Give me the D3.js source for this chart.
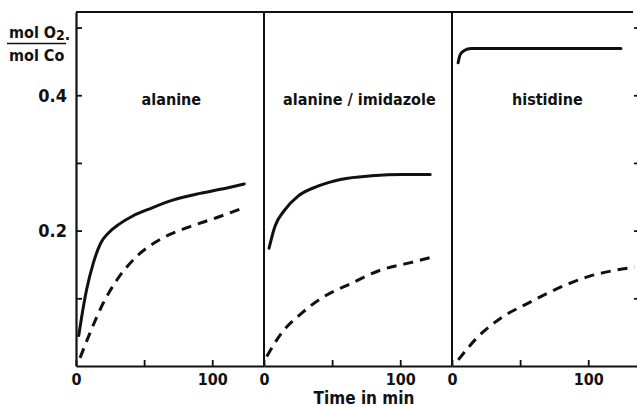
<!DOCTYPE html>
<html>
<head>
<meta charset="utf-8">
<script src="https://cdn.jsdelivr.net/npm/d3@7"></script>
<style>
  body { margin: 0; background: #fff; }
  svg text { font-family: "DejaVu Sans Condensed", "DejaVu Sans", sans-serif; font-stretch: condensed; font-weight: bold; fill: #111; }
</style>
</head>
<body>
<div id="plot"></div>
<script>
// panel titles
const panelNames = ["alanine", "alanine / imidazole", "histidine"];

// O2 uptake [time (min), mol O2 / mol Co], solid and dashed curve per panel
const alanineSolid = [[2, 0.045], [4.2, 0.073], [7.8, 0.113], [12.7, 0.152], [18, 0.181], [24, 0.197], [32, 0.21], [42, 0.222], [55, 0.233], [71, 0.245], [91, 0.255], [106, 0.261], [123.5, 0.269]];
const alanineDashed = [[3, 0.012], [10.3, 0.049], [20, 0.093], [30, 0.127], [44.6, 0.162], [61.7, 0.187], [81, 0.204], [103, 0.219], [123.5, 0.234]];
const imidazoleSolid = [[3.7, 0.174], [8, 0.206], [15.4, 0.231], [25, 0.251], [40, 0.266], [57, 0.276], [79, 0.281], [101, 0.283], [122, 0.283]];
const imidazoleDashed = [[2, 0.014], [13, 0.049], [27.7, 0.078], [42, 0.1], [64, 0.122], [86, 0.142], [106, 0.152], [125.5, 0.162]];
const histidineSolid = [[4.5, 0.448], [6, 0.46], [9, 0.466], [14, 0.469], [30, 0.469], [60, 0.469], [90, 0.469], [124, 0.469]];
const histidineDashed = [[4.6, 0.009], [19, 0.043], [36, 0.071], [56, 0.093], [78, 0.115], [100, 0.132], [134, 0.146]];

const solidSeries = [alanineSolid, imidazoleSolid, histidineSolid];
const dashedSeries = [alanineDashed, imidazoleDashed, histidineDashed];

// ticks
const yTicks = [0.1, 0.2, 0.3, 0.4, 0.5];
const yLabels = [0.2, 0.4];
const xTicks = [0, 50, 100];
const xLabels = [0, 100];

const W = 637, H = 407;
const plotLeft = 76, panelW = 188, plotTop = 12, plotBottom = 366;

const svg = d3.select("#plot").append("svg")
  .attr("width", W)
  .attr("height", H);

const y = d3.scaleLinear().domain([0, 0.523]).range([plotBottom, plotTop]);

const ink = "#111";

const line = (xs) => d3.line()
  .x(d => xs(d[0]))
  .y(d => y(d[1]))
  .curve(d3.curveMonotoneX);

panelNames.forEach((name, i) => {
  const x0 = plotLeft + i * panelW;
  const x = d3.scaleLinear().domain([0, 138]).range([x0, x0 + panelW]);

  // bottom axis, ticks inward
  const xAxis = svg.append("g")
    .attr("transform", `translate(0,${plotBottom})`)
    .call(d3.axisBottom(x).tickValues(xTicks).tickSizeInner(-6).tickSizeOuter(0).tickPadding(8)
      .tickFormat(d => xLabels.includes(d) ? d : ""));
  xAxis.select(".domain").attr("stroke", ink).attr("stroke-width", 2.2);
  xAxis.selectAll(".tick line").attr("stroke", ink).attr("stroke-width", 1.8);
  xAxis.selectAll(".tick text").style("font-size", "16px");

  // panel title
  svg.append("text")
    .attr("x", x(70))
    .attr("y", y(0.4) + 10)
    .attr("text-anchor", "middle")
    .style("font-size", "16px")
    .style("font-weight", "600")
    .text(name);

  // curves
  svg.append("path")
    .datum(solidSeries[i])
    .attr("fill", "none")
    .attr("stroke", ink)
    .attr("stroke-width", 3)
    .attr("stroke-linecap", "round")
    .attr("d", line(x));

  svg.append("path")
    .datum(dashedSeries[i])
    .attr("fill", "none")
    .attr("stroke", ink)
    .attr("stroke-width", 3)
    .attr("stroke-dasharray", "10,7")
    .attr("d", line(x));

  // panel separator
  if (i > 0) {
    svg.append("line")
      .attr("x1", x0).attr("x2", x0)
      .attr("y1", y(0.523)).attr("y2", plotBottom)
      .attr("stroke", ink).attr("stroke-width", 2);
  }
});

// left axis
const yAxis = svg.append("g")
  .attr("transform", `translate(${plotLeft},0)`)
  .call(d3.axisLeft(y).tickValues(yTicks).tickSizeInner(-6).tickSizeOuter(0).tickPadding(9)
    .tickFormat(d => yLabels.includes(d) ? d3.format(".1f")(d) : ""));
yAxis.select(".domain").attr("stroke", ink).attr("stroke-width", 2.2);
yAxis.selectAll(".tick line").attr("stroke", ink).attr("stroke-width", 1.8);
yAxis.selectAll(".tick text").style("font-size", "18px");

// right axis of last panel (just past the picture edge)
const rAxis = svg.append("g")
  .attr("transform", `translate(${plotLeft + 3 * panelW},0)`)
  .call(d3.axisRight(y).tickValues(yTicks).tickSizeInner(-6).tickSizeOuter(0).tickFormat(""));
rAxis.select(".domain").attr("stroke", ink).attr("stroke-width", 2);
rAxis.selectAll(".tick line").attr("stroke", ink).attr("stroke-width", 1.8);

// top frame
svg.append("line")
  .attr("x1", plotLeft).attr("x2", W - 4)
  .attr("y1", y(0.523)).attr("y2", y(0.523))
  .attr("stroke", ink).attr("stroke-width", 2);

// y label as a fraction
const yl = svg.append("g");
const num = yl.append("text").attr("x", 9).attr("y", 38).style("font-size", "16px");
num.append("tspan").text("mol O");
num.append("tspan").attr("dy", 2).style("font-size", "14px").text("2");
num.append("tspan").text(".");
yl.append("line")
  .attr("x1", 7).attr("x2", 66).attr("y1", 43.5).attr("y2", 43.5)
  .attr("stroke", ink).attr("stroke-width", 1.6);
yl.append("text").attr("x", 9).attr("y", 61).style("font-size", "16px").text("mol Co");

// x label
svg.append("text")
  .attr("x", 364)
  .attr("y", 404)
  .attr("text-anchor", "middle")
  .style("font-size", "17px")
  .text("Time in min");
</script>
</body>
</html>
